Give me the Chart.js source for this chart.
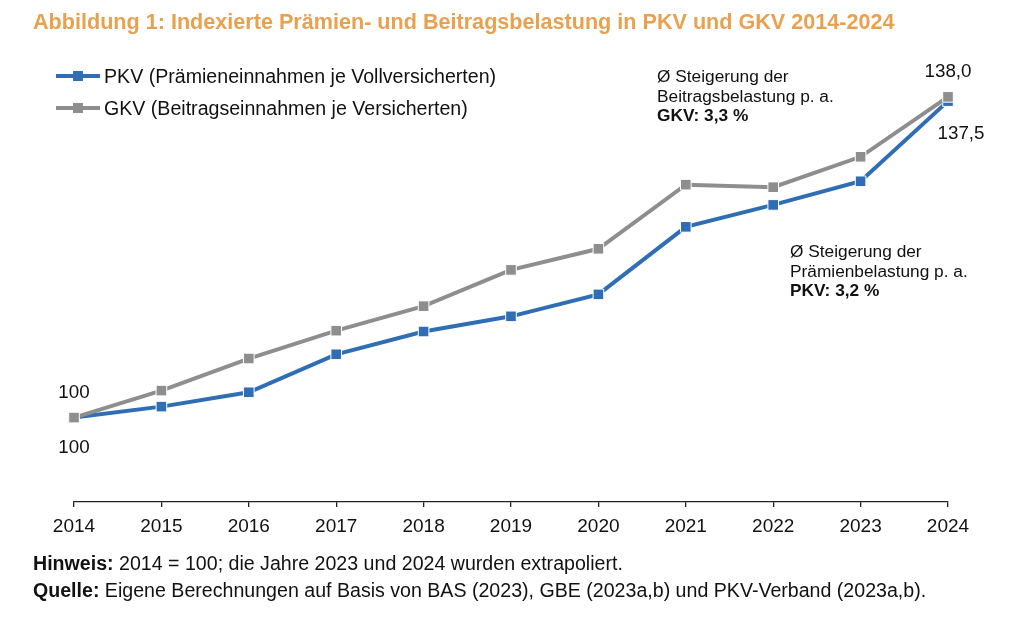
<!DOCTYPE html>
<html lang="de">
<head>
<meta charset="utf-8">
<script src="https://cdn.jsdelivr.net/npm/chart.js@4.4.1/dist/chart.umd.min.js"></script>
<style>
    html, body { margin: 0; padding: 0; background: #fff; }
    body { width: 1024px; height: 621px; position: relative; overflow: hidden; font-family: "Liberation Sans", Arial, sans-serif; color: #111; }
    #chartWrap { position: absolute; left: 0; top: 0; width: 1024px; height: 621px; }
    .txt { position: absolute; white-space: nowrap; line-height: 1; }
    .title { left: 33px; top: 11px; font-size: 21.6px; font-weight: bold; color: #EAA14F; }
    .legend-row { position: absolute; left: 56px; height: 22px; display: flex; align-items: center; font-size: 19.6px; }
    .swatch { position: relative; width: 44px; height: 22px; margin-right: 4px; }
    .swatch .ln { position: absolute; left: 0; right: 0; top: 9px; height: 4px; }
    .swatch .sq { position: absolute; left: 17px; top: 6px; width: 10px; height: 10px; }
    .note { font-size: 17.3px; line-height: 19.5px; }
    .foot { left: 33px; font-size: 19.6px; }
</style>
</head>
<body>
<div id="chartWrap"><canvas id="lineChart"></canvas></div>

<div class="txt title">Abbildung 1: Indexierte Prämien- und Beitragsbelastung in PKV und GKV 2014-2024</div>

<div class="legend-row" style="top:65px">
    <div class="swatch"><div class="ln" id="lnPkv"></div><div class="sq" id="sqPkv"></div></div>
    <span>PKV (Prämieneinnahmen je Vollversicherten)</span>
</div>
<div class="legend-row" style="top:97px">
    <div class="swatch"><div class="ln" id="lnGkv"></div><div class="sq" id="sqGkv"></div></div>
    <span>GKV (Beitragseinnahmen je Versicherten)</span>
</div>

<div class="txt note" style="left:657px; top:67px">Ø Steigerung der<br>Beitragsbelastung p. a.<br><b>GKV: 3,3 %</b></div>
<div class="txt note" style="left:790px; top:242px">Ø Steigerung der<br>Prämienbelastung p. a.<br><b>PKV: 3,2 %</b></div>

<div class="txt foot" style="top:554px"><b>Hinweis:</b> 2014 = 100; die Jahre 2023 und 2024 wurden extrapoliert.</div>
<div class="txt foot" style="top:581px"><b>Quelle:</b> Eigene Berechnungen auf Basis von BAS (2023), GBE (2023a,b) und PKV-Verband (2023a,b).</div>

<script>
// Data (index, 2014 = 100)
const years = ['2014', '2015', '2016', '2017', '2018', '2019', '2020', '2021', '2022', '2023', '2024'];
const pkvValues = [100, 101.3, 103.0, 107.5, 110.2, 112.0, 114.6, 122.6, 125.2, 128.0, 137.5];
const gkvValues = [100, 103.2, 107.0, 110.3, 113.2, 117.5, 120.0, 127.6, 127.3, 130.9, 138.0];

const pkvColor = '#2F6EB5';
const gkvColor = '#8E8E8E';

// legend swatches take the series colours
document.getElementById('lnPkv').style.background = pkvColor;
document.getElementById('sqPkv').style.background = pkvColor;
document.getElementById('lnGkv').style.background = gkvColor;
document.getElementById('sqGkv').style.background = gkvColor;

const fmt = v => v.toFixed(1).replace('.', ',');

// value labels at first and last point
const endLabels = {
    id: 'endLabels',
    afterDatasetsDraw(chart) {
        const c = chart.ctx;
        const x = chart.scales.x;
        const y = chart.scales.y;
        const last = years.length - 1;
        c.save();
        c.font = '18.8px "Liberation Sans", Arial, sans-serif';
        c.fillStyle = '#111';
        c.textAlign = 'center';
        c.textBaseline = 'middle';
        // 2014: GKV above, PKV below
        c.fillText(String(gkvValues[0]), x.getPixelForValue(0), y.getPixelForValue(gkvValues[0]) - 25);
        c.fillText(String(pkvValues[0]), x.getPixelForValue(0), y.getPixelForValue(pkvValues[0]) + 30);
        // 2024
        c.fillText(fmt(gkvValues[last]), x.getPixelForValue(last), y.getPixelForValue(gkvValues[last]) - 25);
        c.fillText(fmt(pkvValues[last]), x.getPixelForValue(last) + 13, y.getPixelForValue(pkvValues[last]) + 33);
        c.restore();
    }
};

const ctx = document.getElementById('lineChart').getContext('2d');
const lineChart = new Chart(ctx, {
    type: 'line',
    data: {
        labels: years,
        datasets: [
            {
                label: 'GKV (Beitragseinnahmen je Versicherten)',
                data: gkvValues,
                borderColor: gkvColor,
                backgroundColor: gkvColor,
                borderWidth: 4,
                pointStyle: 'rect',
                pointRadius: 7.5,
                pointBorderColor: '#ffffff',
                pointBorderWidth: 1,
                tension: 0,
                clip: false
            },
            {
                label: 'PKV (Prämieneinnahmen je Vollversicherten)',
                data: pkvValues,
                borderColor: pkvColor,
                backgroundColor: pkvColor,
                borderWidth: 4,
                pointStyle: 'rect',
                pointRadius: 7.5,
                pointBorderColor: '#ffffff',
                pointBorderWidth: 1,
                tension: 0,
                clip: false
            }
        ]
    },
    options: {
        responsive: true,
        maintainAspectRatio: false,
        animation: false,
        layout: {
            padding: { left: 74, right: 76, top: 80, bottom: 77 }
        },
        plugins: {
            legend: { display: false },
            tooltip: { enabled: false }
        },
        scales: {
            x: {
                offset: false,
                afterFit(scale) { scale.height = 42; },
                border: { display: true, color: '#222', width: 1.3 },
                grid: { drawOnChartArea: false, drawTicks: true, tickLength: 5, color: '#222', lineWidth: 1.3 },
                ticks: {
                    color: '#111',
                    padding: 8,
                    maxRotation: 0,
                    autoSkip: false,
                    font: { family: '"Liberation Sans", Arial, sans-serif', size: 19 }
                }
            },
            y: {
                display: false,
                min: 90,
                max: 140
            }
        }
    },
    plugins: [endLabels]
});
</script>
</body>
</html>
